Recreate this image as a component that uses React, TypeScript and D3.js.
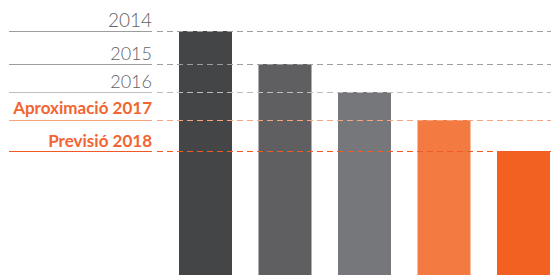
import React, { useRef, useEffect } from "react"
import * as d3 from "d3"

const years = ["2014", "2015", "2016", "Aproximació 2017", "Previsió 2018"]
const values = [244, 211, 183, 155, 124]
const barColors = ["#444547", "#5f5f61", "#76777a", "#f37a40", "#f26122"]
const lineColors = ["#9d9d9e", "#9d9d9e", "#bdbdbe", "#f8a47e", "#f15a24"]
const labelColors = ["#616265", "#616265", "#616265", "#f26532", "#f26532"]
const labelWeights = [300, 300, 300, 700, 700]

const W = 551
const H = 275

export default function App() {
  const ref = useRef<SVGSVGElement>(null)

  useEffect(() => {
    const svg = d3.select(ref.current)
    svg.selectAll("*").remove()

    const x = d3
      .scaleBand()
      .domain(years)
      .range([179, 550])
      .paddingInner(1 / 3)
      .paddingOuter(0)

    const y = d3.scaleLinear().domain([0, d3.max(values)]).range([H, 31])

    const labelRight = 152

    svg
      .append("g")
      .selectAll("rect")
      .data(years)
      .join("rect")
      .attr("x", d => x(d))
      .attr("y", (d, i) => y(values[i]))
      .attr("width", x.bandwidth())
      .attr("height", (d, i) => H - y(values[i]))
      .attr("fill", (d, i) => barColors[i])

    const lines = svg.append("g")
    years.forEach((d, i) => {
      const ly = Math.round(y(values[i])) + 0.5
      lines
        .append("line")
        .attr("x1", 9)
        .attr("x2", labelRight)
        .attr("y1", ly)
        .attr("y2", ly)
        .attr("stroke", lineColors[i])
        .attr("stroke-width", 1.2)
      lines
        .append("line")
        .attr("x1", 157)
        .attr("x2", W)
        .attr("y1", ly)
        .attr("y2", ly)
        .attr("stroke", lineColors[i])
        .attr("stroke-width", 1.2)
        .attr("stroke-dasharray", "6,4")
    })

    svg
      .append("g")
      .selectAll("text")
      .data(years)
      .join("text")
      .attr("x", labelRight)
      .attr("y", (d, i) => y(values[i]) - (i === 3 ? 6 : 4.5))
      .attr("text-anchor", "end")
      .attr("font-family", "Lato, sans-serif")
      .attr("font-size", (d, i) => (i === 0 ? 19 : i < 3 ? 18 : 17))
      .attr("font-weight", (d, i) => labelWeights[i])
      .attr("fill", (d, i) => labelColors[i])
      .text(d => d)
  }, [])

  return (
    <svg
      ref={ref}
      width={W}
      height={H}
      style={{ position: "fixed", left: 0, top: 0, background: "#fff" }}
    ></svg>
  )
}
